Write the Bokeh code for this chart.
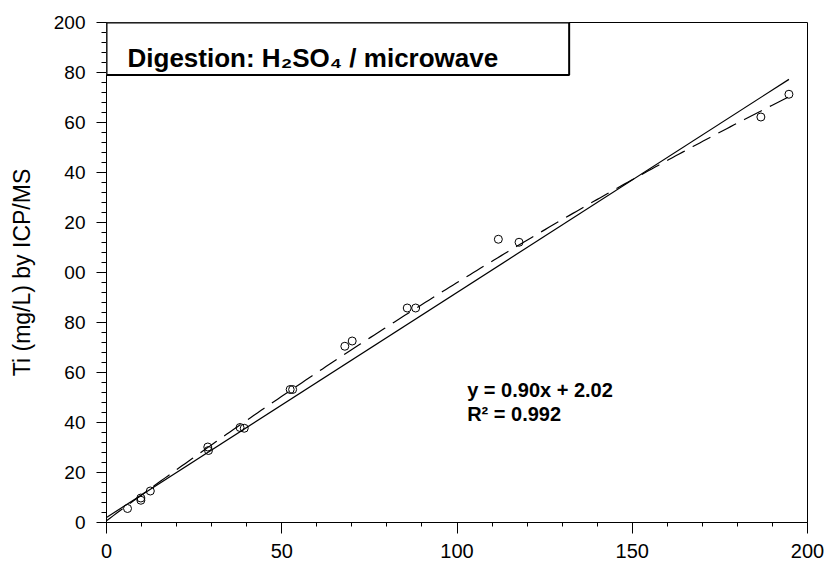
import numpy as np
from bokeh.plotting import figure
from bokeh.models import Range1d, Label, BoxAnnotation, FixedTicker
from bokeh.embed import file_html
from bokeh.resources import INLINE

# ---- data ----
x_values = [6.0, 9.8, 9.8, 12.5, 28.9, 29.1, 38.1, 39.3, 52.4, 53.1,
            68.0, 70.1, 85.8, 88.2, 111.8, 117.7, 186.7, 194.7]
y_values = [5.6, 9.8, 8.9, 12.6, 30.2, 28.8, 38.0, 37.7, 53.2, 53.2,
            70.5, 72.6, 85.8, 85.8, 113.3, 112.1, 162.2, 171.3]
# linear trend line (printed on the chart)
slope = 0.90
intercept = 2.02
r_squared = 0.992
# second-order (dashed) trend curve, coefficients
quad_coeffs = [-0.000858, 1.038, 0.72]

x_ticks = [0, 50, 100, 150, 200]
x_minor = list(range(0, 201, 10))
y_ticks = [0, 20, 40, 60, 80, 100, 120, 140, 160, 180, 200]
y_minor = list(range(0, 201, 4))
y_tick_labels = ["0", "20", "40", "60", "80", "00", "20", "40", "60", "80", "200"]

title_text = "Digestion: H\u2082SO\u2084 / microwave"
y_label = "Ti (mg/L) by ICP/MS"
eq_text = f"y = {slope:.2f}x + {intercept:.2f}"
r2_text = f"R\u00b2 = {r_squared:.3f}"

FONT = "Liberation Sans"

p = figure(width=826, height=562, x_range=Range1d(0, 200), y_range=Range1d(0, 200),
           output_backend="svg", toolbar_location=None,
           min_border_left=106, min_border_right=19, min_border_top=22, min_border_bottom=40)
p.grid.visible = False
p.outline_line_color = "black"
p.outline_line_width = 1
p.outline_line_alpha = 1.0
p.background_fill_color = "white"
p.border_fill_color = "white"

for ax in (p.xaxis[0], p.yaxis[0]):
    ax.axis_line_color = "black"
    ax.axis_line_width = 1
    ax.axis_line_alpha = 1.0
    ax.major_tick_line_color = "black"
    ax.major_tick_line_width = 1
    ax.major_tick_line_alpha = 1.0
    ax.minor_tick_line_color = "black"
    ax.minor_tick_line_width = 1
    ax.minor_tick_line_alpha = 1.0
    ax.major_label_text_font = FONT
    ax.major_label_text_color = "black"

# x axis
xa = p.xaxis[0]
xa.ticker = FixedTicker(ticks=x_ticks, minor_ticks=x_minor)
xa.major_tick_in = 0
xa.major_tick_out = 11
xa.minor_tick_in = 0
xa.minor_tick_out = 4
xa.major_label_text_font_size = "20px"
xa.major_label_standoff = 10

# y axis
ya = p.yaxis[0]
ya.ticker = FixedTicker(ticks=y_ticks, minor_ticks=y_minor)
ya.major_label_overrides = {t: l for t, l in zip(y_ticks, y_tick_labels)}
ya.major_tick_in = 0
ya.major_tick_out = 10
ya.minor_tick_in = 0
ya.minor_tick_out = 5
ya.major_label_text_font_size = "19px"
ya.major_label_standoff = 11
ya.axis_label = y_label
ya.axis_label_text_font = FONT
ya.axis_label_text_font_size = "23px"
ya.axis_label_text_font_style = "normal"
ya.axis_label_text_color = "black"
ya.axis_label_standoff = 16

# linear regression line (from printed coefficients)
x_end = max(x_values)
lin_x = [0, x_end]
lin_y = [intercept + slope * v for v in lin_x]
p.line(lin_x, lin_y, line_color="black", line_width=1.2)

# second-order trend curve (dashed)
qx = np.linspace(0, x_end, 200)
qy = np.polyval(quad_coeffs, qx)
p.line(qx, qy, line_color="black", line_width=1.2, line_dash="20 9")

# data points
p.scatter(x_values, y_values, marker="circle", size=8, fill_color=None,
          line_color="black", line_width=1)

# title box
p.add_layout(BoxAnnotation(left=0, right=132, bottom=179, top=200,
                           fill_color="white", fill_alpha=1.0,
                           line_color="black", line_alpha=1.0, line_width=2))
p.add_layout(Label(x=6, y=185.8, text=title_text, text_font=FONT,
                   text_font_size="26px", text_font_style="bold",
                   text_color="black", text_baseline="alphabetic"))

# equation text
p.add_layout(Label(x=102.9, y=53.2, text=eq_text, text_font=FONT,
                   text_font_size="20px", text_font_style="bold",
                   text_color="black", text_baseline="alphabetic"))
p.add_layout(Label(x=102.9, y=43.6, text=r2_text, text_font=FONT,
                   text_font_size="20px", text_font_style="bold",
                   text_color="black", text_baseline="alphabetic"))

open("out.html", "w").write(file_html(p, INLINE))
